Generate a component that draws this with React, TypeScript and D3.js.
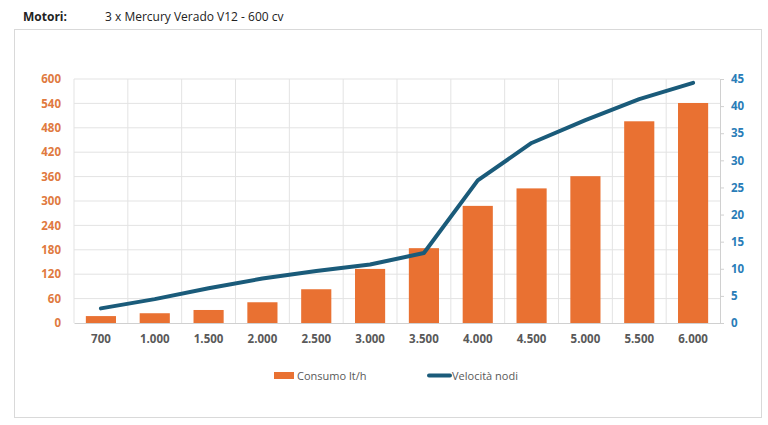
import React, { useEffect, useRef } from "react";
import * as d3 from "d3";

// giri motore
const rpm = ["700", "1.000", "1.500", "2.000", "2.500", "3.000", "3.500", "4.000", "4.500", "5.000", "5.500", "6.000"];
// Consumo lt/h
const consumo = [17, 24, 32, 51, 83, 133, 184, 288, 331, 361, 496, 541];
// Velocità nodi
const velocita = [2.7, 4.4, 6.4, 8.2, 9.6, 10.8, 12.9, 26.3, 33.2, 37.4, 41.3, 44.3];

const leftTicks = [0, 60, 120, 180, 240, 300, 360, 420, 480, 540, 600];
const rightTicks = [0, 5, 10, 15, 20, 25, 30, 35, 40, 45];

const W = 768;
const H = 425;
const margin = { top: 79, right: 48, bottom: 102, left: 74 };
const font = "'Open Sans', 'Noto Sans', sans-serif";
const orange = "#E97132";
const teal = "#1A5B7A";

const App = () => {
  const ref = useRef<SVGSVGElement | null>(null);

  useEffect(() => {
    const svg = d3.select(ref.current);
    svg.selectAll("*").remove();

    const pw = W - margin.left - margin.right;
    const ph = H - margin.top - margin.bottom;

    // header
    svg.append("text").attr("x", 23).attr("y", 21)
      .attr("font-family", font).attr("font-size", 12).attr("font-weight", 700)
      .attr("fill", "#222").text("Motori:");
    svg.append("text").attr("x", 105).attr("y", 21)
      .attr("font-family", font).attr("font-size", 12)
      .attr("fill", "#222").text("3 x Mercury Verado V12 - 600 cv");

    // chart frame
    svg.append("rect").attr("x", 14.5).attr("y", 29.5).attr("width", 747).attr("height", 388)
      .attr("fill", "#fff").attr("stroke", "#d9d9d9");

    const g = svg.append("g").attr("transform", `translate(${margin.left},${margin.top})`);

    const x = d3.scaleBand().domain(rpm).range([0, pw]).paddingInner(0.44).paddingOuter(0.22);
    const yL = d3.scaleLinear().domain([0, 600]).range([ph, 0]);
    const yR = d3.scaleLinear().domain([0, 45]).range([ph, 0]);

    // grid
    const bx = d3.scaleLinear().domain([0, rpm.length]).range([0, pw]);
    g.append("g").selectAll("line").data(leftTicks.slice(1)).join("line")
      .attr("x1", 0).attr("x2", pw)
      .attr("y1", (d) => yL(d)).attr("y2", (d) => yL(d))
      .attr("stroke", "#e3e3e3");
    g.append("g").selectAll("line").data(d3.range(rpm.length)).join("line")
      .attr("x1", (d) => bx(d)).attr("x2", (d) => bx(d))
      .attr("y1", 0).attr("y2", ph)
      .attr("stroke", "#e3e3e3");

    // bars
    g.append("g").selectAll("rect").data(consumo).join("rect")
      .attr("x", (_, i) => x(rpm[i])!)
      .attr("width", x.bandwidth())
      .attr("y", (d) => yL(d))
      .attr("height", (d) => ph - yL(d))
      .attr("fill", orange);

    // axes
    const xAxis = g.append("g").attr("transform", `translate(0,${ph})`)
      .call(d3.axisBottom(x).tickSize(0).tickPadding(12));
    xAxis.select(".domain").attr("stroke", "#d0d0d0");
    xAxis.selectAll("text").attr("font-family", font).attr("font-size", 11.5)
      .attr("font-weight", 700).attr("fill", "#595959");

    const lAxis = g.append("g")
      .call(d3.axisLeft(yL).tickValues(leftTicks).tickSize(0).tickPadding(13));
    lAxis.select(".domain").remove();
    lAxis.selectAll("text").attr("font-family", font).attr("font-size", 11.5)
      .attr("font-weight", 700).attr("fill", "#E07A3F");

    const rAxis = g.append("g").attr("transform", `translate(${pw},0)`)
      .call(d3.axisRight(yR).tickValues(rightTicks).tickSize(4).tickPadding(7));
    rAxis.select(".domain").attr("stroke", "#d0d0d0");
    rAxis.selectAll("line").attr("stroke", "#d0d0d0");
    rAxis.selectAll("text").attr("font-family", font).attr("font-size", 11.5)
      .attr("font-weight", 700).attr("fill", "#2A7DB8");

    // line
    const line = d3.line<number>()
      .x((_, i) => x(rpm[i])! + x.bandwidth() / 2)
      .y((d) => yR(d));
    g.append("path").datum(velocita)
      .attr("fill", "none").attr("stroke", teal).attr("stroke-width", 4)
      .attr("stroke-linecap", "round").attr("stroke-linejoin", "round")
      .attr("d", line);

    // legend
    const lg = svg.append("g").attr("font-family", font).attr("font-size", 11).attr("fill", "#595959");
    lg.append("rect").attr("x", 274).attr("y", 372).attr("width", 20).attr("height", 7).attr("fill", orange);
    lg.append("text").attr("x", 297).attr("y", 379.5).text("Consumo lt/h");
    lg.append("line").attr("x1", 429).attr("x2", 450).attr("y1", 375.5).attr("y2", 375.5)
      .attr("stroke", teal).attr("stroke-width", 4).attr("stroke-linecap", "round");
    lg.append("text").attr("x", 452).attr("y", 379.5).text("Velocità nodi");
  }, []);

  return (
    <svg ref={ref} width={W} height={H}
      style={{ position: "absolute", left: 0, top: 0, background: "#fff" }} />
  );
};

export default App;
